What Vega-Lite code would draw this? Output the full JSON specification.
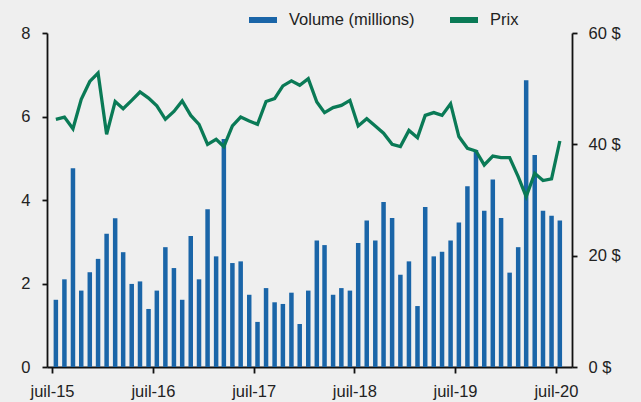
{
  "$schema": "https://vega.github.io/schema/vega-lite/v6.json",
  "width": 525,
  "height": 334,
  "autosize": "none",
  "padding": {"left": 47, "top": 33, "right": 69, "bottom": 35},
  "background": "#efefef",
  "config": {
    "view": {"stroke": null},
    "font": "Liberation Sans",
    "axis": {"grid": false, "domainColor": "#111", "domainWidth": 1.8, "tickColor": "#111", "tickWidth": 1.8, "tickSize": 5, "labelFontSize": 16.5, "labelColor": "#222", "labelFont": "Liberation Sans", "titleFontSize": 15}
  },
  "data": {"values": [
    {"date": "2015-07-15", "volume": 1.61, "price": 44.5},
    {"date": "2015-08-15", "volume": 2.10, "price": 44.9},
    {"date": "2015-09-15", "volume": 4.76, "price": 42.8},
    {"date": "2015-10-15", "volume": 1.83, "price": 48.1},
    {"date": "2015-11-15", "volume": 2.27, "price": 51.3},
    {"date": "2015-12-15", "volume": 2.59, "price": 52.8},
    {"date": "2016-01-15", "volume": 3.19, "price": 41.8},
    {"date": "2016-02-15", "volume": 3.56, "price": 47.7},
    {"date": "2016-03-15", "volume": 2.75, "price": 46.4},
    {"date": "2016-04-15", "volume": 1.99, "price": 47.9},
    {"date": "2016-05-15", "volume": 2.05, "price": 49.4},
    {"date": "2016-06-15", "volume": 1.39, "price": 48.3},
    {"date": "2016-07-15", "volume": 1.83, "price": 46.9},
    {"date": "2016-08-15", "volume": 2.87, "price": 44.5},
    {"date": "2016-09-15", "volume": 2.37, "price": 45.9},
    {"date": "2016-10-15", "volume": 1.61, "price": 47.8},
    {"date": "2016-11-15", "volume": 3.14, "price": 45.2},
    {"date": "2016-12-15", "volume": 2.10, "price": 43.6},
    {"date": "2017-01-15", "volume": 3.78, "price": 40.0},
    {"date": "2017-02-15", "volume": 2.65, "price": 40.9},
    {"date": "2017-03-15", "volume": 5.46, "price": 39.6},
    {"date": "2017-04-15", "volume": 2.49, "price": 43.3},
    {"date": "2017-05-15", "volume": 2.53, "price": 44.9},
    {"date": "2017-06-15", "volume": 1.73, "price": 44.2},
    {"date": "2017-07-15", "volume": 1.08, "price": 43.6},
    {"date": "2017-08-15", "volume": 1.89, "price": 47.7},
    {"date": "2017-09-15", "volume": 1.55, "price": 48.2},
    {"date": "2017-10-15", "volume": 1.51, "price": 50.5},
    {"date": "2017-11-15", "volume": 1.78, "price": 51.4},
    {"date": "2017-12-15", "volume": 1.03, "price": 50.6},
    {"date": "2018-01-15", "volume": 1.83, "price": 51.8},
    {"date": "2018-02-15", "volume": 3.03, "price": 47.6},
    {"date": "2018-03-15", "volume": 2.92, "price": 45.7},
    {"date": "2018-04-15", "volume": 1.73, "price": 46.6},
    {"date": "2018-05-15", "volume": 1.89, "price": 47.0},
    {"date": "2018-06-15", "volume": 1.83, "price": 47.9},
    {"date": "2018-07-15", "volume": 2.97, "price": 43.3},
    {"date": "2018-08-15", "volume": 3.51, "price": 44.6},
    {"date": "2018-09-15", "volume": 3.03, "price": 43.3},
    {"date": "2018-10-15", "volume": 3.95, "price": 42.0},
    {"date": "2018-11-15", "volume": 3.57, "price": 40.0},
    {"date": "2018-12-15", "volume": 2.21, "price": 39.6},
    {"date": "2019-01-15", "volume": 2.53, "price": 42.5},
    {"date": "2019-02-15", "volume": 1.46, "price": 41.2},
    {"date": "2019-03-15", "volume": 3.83, "price": 45.2},
    {"date": "2019-04-15", "volume": 2.65, "price": 45.7},
    {"date": "2019-05-15", "volume": 2.76, "price": 45.2},
    {"date": "2019-06-15", "volume": 3.03, "price": 47.3},
    {"date": "2019-07-15", "volume": 3.46, "price": 41.4},
    {"date": "2019-08-15", "volume": 4.33, "price": 39.3},
    {"date": "2019-09-15", "volume": 5.20, "price": 38.8},
    {"date": "2019-10-15", "volume": 3.74, "price": 36.3},
    {"date": "2019-11-15", "volume": 4.49, "price": 37.9},
    {"date": "2019-12-15", "volume": 3.57, "price": 37.6},
    {"date": "2020-01-15", "volume": 2.26, "price": 37.6},
    {"date": "2020-02-15", "volume": 2.87, "price": 34.2},
    {"date": "2020-03-15", "volume": 6.87, "price": 30.6},
    {"date": "2020-04-15", "volume": 5.08, "price": 34.8},
    {"date": "2020-05-15", "volume": 3.74, "price": 33.5},
    {"date": "2020-06-15", "volume": 3.62, "price": 33.8},
    {"date": "2020-07-15", "volume": 3.51, "price": 40.6}
  ]},
  "encoding": {
    "x": {
      "field": "date", "type": "temporal",
      "scale": {"type": "utc", "domain": [{"year": 2015, "month": 7, "date": 1, "utc": true}, {"year": 2020, "month": 8, "date": 10, "utc": true}]},
      "axis": {
        "title": null,
        "values": [
          {"year": 2015, "month": 7, "date": 1, "utc": true},
          {"year": 2016, "month": 7, "date": 1, "utc": true},
          {"year": 2017, "month": 7, "date": 1, "utc": true},
          {"year": 2018, "month": 7, "date": 1, "utc": true},
          {"year": 2019, "month": 7, "date": 1, "utc": true},
          {"year": 2020, "month": 7, "date": 1, "utc": true}
        ],
        "labelExpr": "'juil-' + utcFormat(datum.value, '%y')",
        "labelPadding": 10,
        "tickSize": 6,
        "labelFlush": false
      }
    },
    "color": {
      "field": "series", "type": "nominal",
      "scale": {"domain": ["Volume (millions)", "Prix"], "range": ["#1a65a8", "#0a7a56"]},
      "legend": {
        "title": null, "orient": "none", "direction": "horizontal",
        "legendX": 199, "legendY": -30,
        "symbolType": "stroke", "symbolSize": 784, "symbolStrokeWidth": 6,
        "labelFontSize": 16.5, "labelColor": "#222", "labelFont": "Liberation Sans",
        "labelOffset": 9, "columnPadding": 23
      }
    }
  },
  "layer": [
    {
      "transform": [{"calculate": "'Volume (millions)'", "as": "series"}],
      "mark": {"type": "bar", "size": 4.5},
      "encoding": {
        "y": {"field": "volume", "type": "quantitative", "scale": {"domain": [0, 8]},
          "axis": {"title": null, "values": [0, 2, 4, 6, 8], "labelPadding": 12, "orient": "left"}},
        "stroke": {"field": "series", "type": "nominal", "scale": {"domain": ["Volume (millions)", "Prix"], "range": ["#1a65a8", "#0a7a56"]}, "legend": null},
        "strokeWidth": {"value": 0}
      }
    },
    {
      "transform": [{"calculate": "'Prix'", "as": "series"}],
      "mark": {"type": "line", "strokeWidth": 3.3, "strokeJoin": "miter"},
      "encoding": {
        "y": {"field": "price", "type": "quantitative", "scale": {"domain": [0, 60]},
          "axis": {"title": null, "orient": "right", "values": [0, 20, 40, 60], "labelExpr": "datum.value + ' $'", "labelPadding": 11}}
      }
    }
  ],
  "resolve": {"scale": {"y": "independent"}}
}
